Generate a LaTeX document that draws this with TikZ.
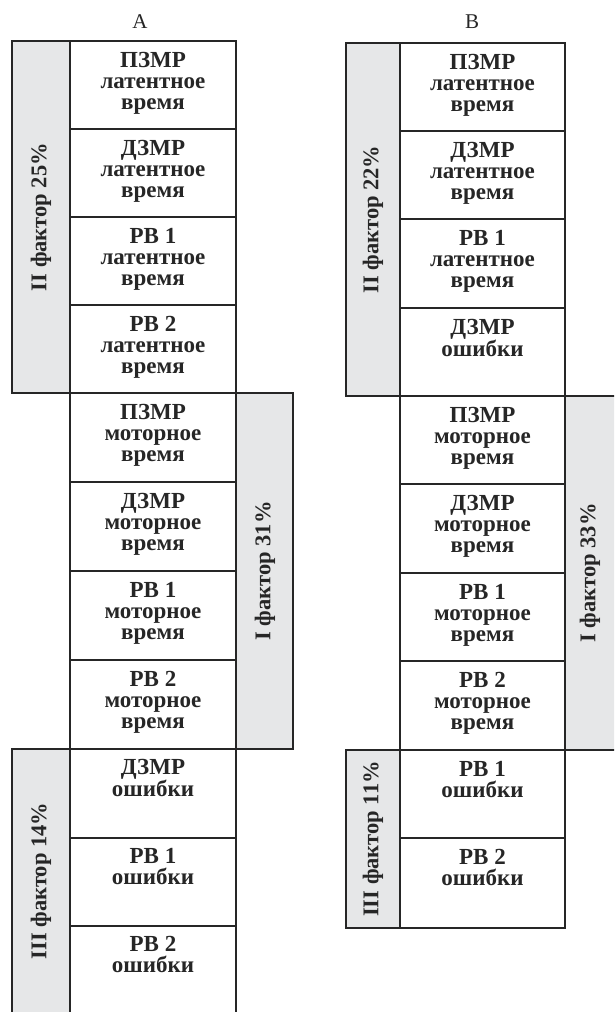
\documentclass[tikz,border=0pt]{standalone}
\usepackage{fontspec}
\setmainfont{Liberation Serif}
\definecolor{fgray}{HTML}{E6E7E8}
\tikzset{
  frame/.style={draw=black!85, line width=1.8pt},
  grayfill/.style={fill=fgray},
  cell/.style={font=\bfseries\fontsize{23}{21}\selectfont, align=center, anchor=north, inner sep=0pt, text=black!85},
  factor/.style={font=\bfseries\fontsize{22.5}{21}\selectfont, rotate=90, inner sep=0pt, text=black!85},
  ttl/.style={font=\fontsize{21}{21}\selectfont, inner sep=0pt, text=black!85}
}
\begin{document}
\begin{tikzpicture}[x=1pt,y=-1pt]
\useasboundingbox (0,0) rectangle (614,1012);
\clip (0,0) rectangle (614,1012);
% titles
\node[ttl] (tA) at (140,22) {A};
\node[ttl] (tB) at (472,22) {B};
% ---------- Column A ----------
\fill[grayfill] (12,41) rectangle (70,393);
\fill[grayfill] (236,393) rectangle (293,749);
\fill[grayfill] (12,749) rectangle (70,1020);
\draw[frame] (12,41) rectangle (236,393);
\draw[frame] (70,41) -- (70,393);
\draw[frame] (70,129) -- (236,129);
\draw[frame] (70,217) -- (236,217);
\draw[frame] (70,305) -- (236,305);
\draw[frame] (70,393) rectangle (293,749);
\draw[frame] (236,393) -- (236,749);
\draw[frame] (70,482) -- (236,482);
\draw[frame] (70,571) -- (236,571);
\draw[frame] (70,660) -- (236,660);
\draw[frame] (12,1020) -- (12,749) -- (236,749) -- (236,1020);
\draw[frame] (70,749) -- (70,1020);
\draw[frame] (70,838) -- (236,838);
\draw[frame] (70,926) -- (236,926);
\node[cell] (a1) at (153,52) {ПЗМР\\латентное\\время};
\node[cell] (a2) at (153,140) {ДЗМР\\латентное\\время};
\node[cell] (a3) at (153,228) {РВ 1\\латентное\\время};
\node[cell] (a4) at (153,316) {РВ 2\\латентное\\время};
\node[cell] (a5) at (153,404) {ПЗМР\\моторное\\время};
\node[cell] (a6) at (153,493) {ДЗМР\\моторное\\время};
\node[cell] (a7) at (153,582) {РВ 1\\моторное\\время};
\node[cell] (a8) at (153,671) {РВ 2\\моторное\\время};
\node[cell] (a9) at (153,759) {ДЗМР\\ошибки};
\node[cell] (a10) at (153,848) {РВ 1\\ошибки};
\node[cell] (a11) at (153,936) {РВ 2\\ошибки};
\node[factor] (fA2) at (41,217) {II фактор 25\%};
\node[factor] (fA1) at (265,571) {I фактор 31\%};
\node[factor] (fA3) at (41,881) {III фактор 14\%};
% ---------- Column B ----------
\fill[grayfill] (346,43) rectangle (400,396);
\fill[grayfill] (565,396) rectangle (620,750);
\fill[grayfill] (346,750) rectangle (400,928);
\draw[frame] (346,43) rectangle (565,396);
\draw[frame] (400,43) -- (400,396);
\draw[frame] (400,131) -- (565,131);
\draw[frame] (400,219) -- (565,219);
\draw[frame] (400,308) -- (565,308);
\draw[frame] (400,396) rectangle (620,750);
\draw[frame] (565,396) -- (565,750);
\draw[frame] (400,484) -- (565,484);
\draw[frame] (400,573) -- (565,573);
\draw[frame] (400,661) -- (565,661);
\draw[frame] (346,750) rectangle (565,928);
\draw[frame] (400,750) -- (400,928);
\draw[frame] (400,838) -- (565,838);
\node[cell] (b1) at (482.5,54) {ПЗМР\\латентное\\время};
\node[cell] (b2) at (482.5,142) {ДЗМР\\латентное\\время};
\node[cell] (b3) at (482.5,230) {РВ 1\\латентное\\время};
\node[cell] (b4) at (482.5,319) {ДЗМР\\ошибки};
\node[cell] (b5) at (482.5,407) {ПЗМР\\моторное\\время};
\node[cell] (b6) at (482.5,495) {ДЗМР\\моторное\\время};
\node[cell] (b7) at (482.5,584) {РВ 1\\моторное\\время};
\node[cell] (b8) at (482.5,672) {РВ 2\\моторное\\время};
\node[cell] (b9) at (482.5,761) {РВ 1\\ошибки};
\node[cell] (b10) at (482.5,849) {РВ 2\\ошибки};
\node[factor] (fB2) at (373,219.5) {II фактор 22\%};
\node[factor] (fB1) at (590,573) {I фактор 33\%};
\node[factor] (fB3) at (373,839) {III фактор 11\%};
\end{tikzpicture}
\end{document}
